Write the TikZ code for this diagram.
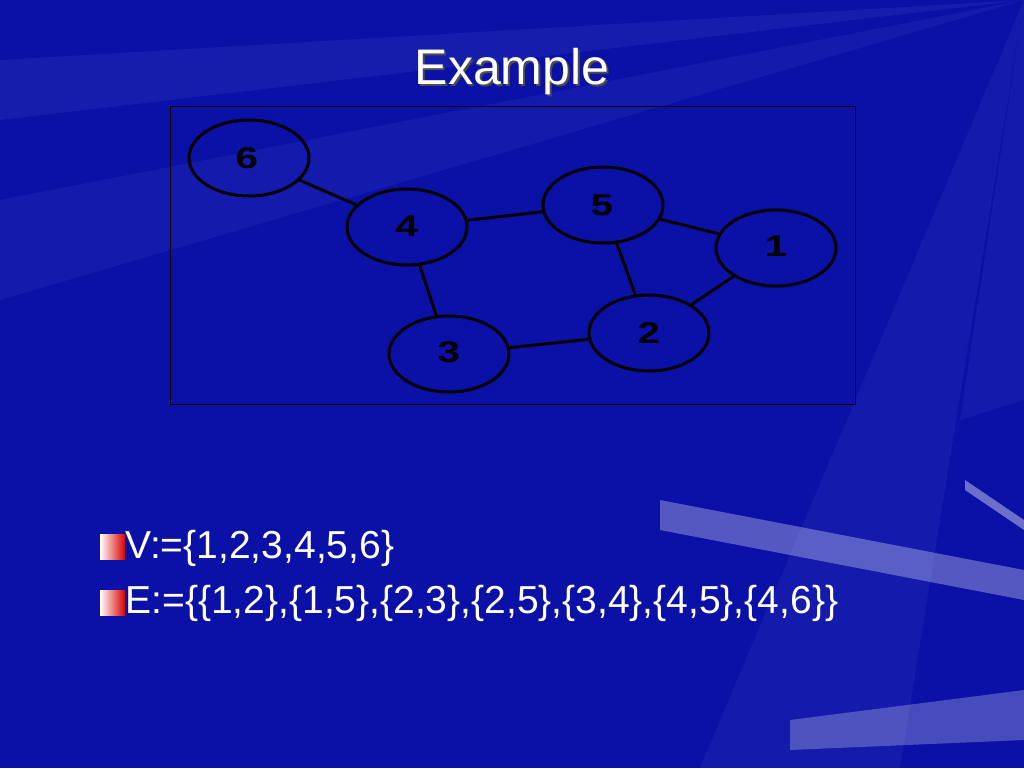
\documentclass[tikz,border=0pt]{standalone}
\usepackage{fontspec}
\setmainfont{Liberation Sans}
\usetikzlibrary{shapes.geometric}
\definecolor{bg}{HTML}{0B10A6}
\definecolor{ray}{HTML}{5A6AD8}
\begin{document}
\begin{tikzpicture}[x=1pt,y=-1pt,
  vert/.style={ellipse,draw=black,line width=3pt,minimum width=120pt,minimum height=76pt,text=black,inner sep=0pt},
  lab/.style={text=black,font=\fontsize{30}{30}\bfseries,xscale=1.35},
  edge/.style={draw=black,line width=3pt},
  bul/.style={anchor=west,text=white,font=\fontsize{39}{40}\selectfont}]
\useasboundingbox (0,0) rectangle (1024,768);
\fill[bg] (0,0) rectangle (1024,768);
\begin{scope}
\clip (0,0) rectangle (1024,768);
\fill[ray,opacity=0.12] (1024,0) -- (0,200) -- (0,300) -- cycle;
\fill[ray,opacity=0.12] (1024,0) -- (700,768) -- (900,768) -- cycle;
\fill[ray,opacity=0.15] (1024,0) -- (0,60) -- (0,120) -- cycle;
\fill[ray,opacity=0.12] (1024,0) -- (1024,400) -- (960,420) -- cycle;
\fill[white,opacity=0.3] (660,500) -- (1024,570) -- (1024,600) -- (660,530) -- cycle;
\fill[white,opacity=0.25] (790,720) -- (1024,690) -- (1024,740) -- (790,750) -- cycle;
\fill[white,opacity=0.4] (965,480) -- (1024,520) -- (1024,530) -- (965,490) -- cycle;
\end{scope}
\node[text=black!70,font=\fontsize{50}{50}\selectfont] at (514,74) {Example};
\node (title) [text=white,font=\fontsize{50}{50}\selectfont] at (512,72) {Example};
\node (frame) [draw=black,line width=0.8pt,minimum width=685pt,minimum height=298pt,inner sep=0pt] at (512.5,255) {};
\node[vert] (n6) at (249,158) {};
\node[vert] (n4) at (407,227) {};
\node[vert] (n5) at (603,205) {};
\node[vert] (n1) at (776,248) {};
\node[vert] (n2) at (649,333) {};
\node[vert] (n3) at (449,354) {};
\node[lab] (l6) at (247,158) {6};
\node[lab] (l4) at (407,226) {4};
\node[lab] (l5) at (602,205) {5};
\node[lab] (l1) at (776,246) {1};
\node[lab] (l2) at (649,333) {2};
\node[lab] (l3) at (449,352) {3};
\draw[edge] (n1) -- (n2);
\draw[edge] (n1) -- (n5);
\draw[edge] (n2) -- (n3);
\draw[edge] (n2) -- (n5);
\draw[edge] (n3) -- (n4);
\draw[edge] (n4) -- (n5);
\draw[edge] (n4) -- (n6);
\shade[left color=white,right color=red!85!black] (100,534) rectangle (125,559);
\shade[left color=white,right color=red!85!black] (100,590) rectangle (125,615);
\node[bul] (v) at (122,548) {V:=\{1,2,3,4,5,6\}};
\node[bul] (e) at (122,603) {E:=\{\{1,2\},\{1,5\},\{2,3\},\{2,5\},\{3,4\},\{4,5\},\{4,6\}\}};
\end{tikzpicture}
\end{document}
